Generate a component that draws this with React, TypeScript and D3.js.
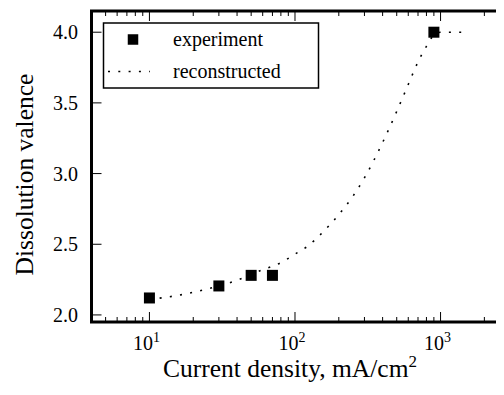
import * as d3 from "d3";

// experimental points
const expCurrent = [10, 30, 50, 70, 900];
const expValence = [2.12, 2.205, 2.28, 2.28, 4.0];

// reconstructed curve
const recCurrent = [10, 15, 20, 30, 40, 50, 60, 70, 80, 100, 120, 150, 200, 250, 300, 400, 500, 600, 700, 800, 900, 1000, 1500];
const recValence = [2.11, 2.135, 2.16, 2.205, 2.245, 2.285, 2.32, 2.345, 2.37, 2.43, 2.48, 2.57, 2.71, 2.84, 2.97, 3.22, 3.44, 3.63, 3.79, 3.9, 3.98, 4.0, 4.0];

// axis ticks
const yTicks = [2.0, 2.5, 3.0, 3.5, 4.0];
const xMajor = [10, 100, 1000];
const xExp = ["1", "2", "3"];

const legendLabels = ["experiment", "reconstructed"];

const serif = (size: string) => ({ fontFamily: "'Liberation Serif'", fontSize: size });

export default function App() {
  const left = 91.5, right = 510, top = 11, bottom = 322;

  const x = d3.scaleLog().domain([4, 3000]).range([left, right]);
  const y = d3.scaleLinear().domain([1.95, 4.15]).range([bottom, top]);

  // minor ticks on the log axis
  const xMinor: number[] = [];
  [1, 10, 100, 1000].forEach(dec => {
    for (let k = 2; k <= 9; k++) {
      const v = k * dec;
      if (v > 4 && v < 3000) xMinor.push(v);
    }
  });

  const line = d3.line<number>()
    .x((_, i) => x(recCurrent[i]))
    .y(d => y(d))
    .curve(d3.curveMonotoneX);

  const ms = 11;

  return (
    <svg width={504} height={395}>
      {/* body has an 8px margin: shift everything back to the page origin */}
      <g transform="translate(-8,-8)">
        {/* reconstructed curve */}
        <path d={line(recValence) || ""} fill="none" stroke="#000" strokeWidth={1.6} strokeDasharray="2 8.3" />

        {/* experiment markers */}
        {expCurrent.map((c, i) => (
          <rect key={i} x={x(c) - ms / 2} y={y(expValence[i]) - ms / 2} width={ms} height={ms} fill="#000" />
        ))}

        {/* ticks */}
        <g stroke="#000" strokeWidth={1}>
          {xMajor.map(v => (
            <g key={"M" + v}>
              <line x1={x(v)} x2={x(v)} y1={bottom} y2={bottom - 10} />
              <line x1={x(v)} x2={x(v)} y1={top} y2={top + 10} />
            </g>
          ))}
          {xMinor.map(v => (
            <g key={"m" + v}>
              <line x1={x(v)} x2={x(v)} y1={bottom} y2={bottom - 5} />
              <line x1={x(v)} x2={x(v)} y1={top} y2={top + 5} />
            </g>
          ))}
          {yTicks.map(v => (
            <g key={"y" + v}>
              <line x1={left} x2={left + 10} y1={y(v)} y2={y(v)} />
              <line x1={right} x2={right - 10} y1={y(v)} y2={y(v)} />
            </g>
          ))}
        </g>

        {/* frame */}
        <rect x={left} y={top} width={right - left} height={bottom - top} fill="none" stroke="#000" strokeWidth={3} />

        {/* tick labels */}
        {yTicks.map(v => (
          <text key={v} x={78} y={y(v) + 7} textAnchor="end" style={serif("20px")}>{v.toFixed(1)}</text>
        ))}
        {xMajor.map((v, i) => (
          <text key={v} x={x(v) - 3} y={350} textAnchor="middle" style={serif("20px")}>
            10<tspan dy={-8} style={serif("14px")}>{xExp[i]}</tspan>
          </text>
        ))}

        {/* axis labels */}
        <text x={290} y={377} textAnchor="middle" style={serif("25.5px")}>
          Current density,  mA/cm<tspan dy={-10} style={serif("17px")}>2</tspan>
        </text>
        <text transform={`translate(33,${(top + bottom) / 2 + 8}) rotate(-90)`} textAnchor="middle" style={serif("25.5px")}>
          Dissolution valence
        </text>

        {/* legend */}
        <rect x={103.5} y={23} width={215} height={65} fill="#fff" stroke="#000" strokeWidth={1.5} />
        <rect x={133 - 5.25} y={39.5 - 5.25} width={10.5} height={10.5} fill="#000" />
        <line x1={108} x2={150} y1={71.5} y2={71.5} stroke="#000" strokeWidth={1.6} strokeDasharray="2 8.3" />
        <text x={173} y={45.5} style={serif("20px")}>{legendLabels[0]}</text>
        <text x={173} y={78} style={serif("20px")}>{legendLabels[1]}</text>
      </g>
    </svg>
  );
}
